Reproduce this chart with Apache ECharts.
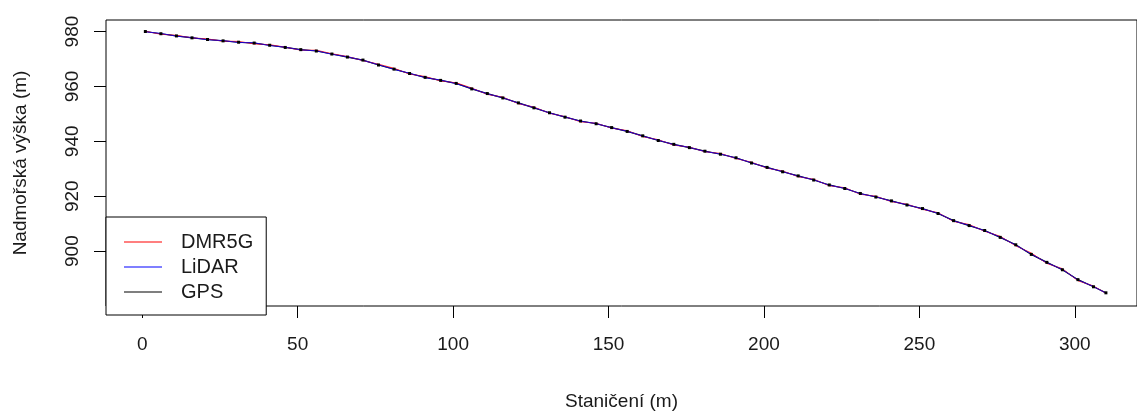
<!DOCTYPE html>
<html>
<head>
<meta charset="utf-8">
<script src="https://cdn.jsdelivr.net/npm/echarts@6/dist/echarts.min.js"></script>
<style>
  html, body { margin: 0; padding: 0; background: #fff; }
  #profil { width: 1137px; height: 416px; }
</style>
</head>
<body>
<div id="profil"></div>
<script>
// staničení (m)
var stations = [1, 6, 11, 16, 21, 26, 31, 36, 41, 46, 51, 56, 61, 66, 71, 76, 81, 86, 91, 96,
  101, 106, 111, 116, 121, 126, 131, 136, 141, 146, 151, 156, 161, 166, 171, 176, 181, 186, 191, 196,
  201, 206, 211, 216, 221, 226, 231, 236, 241, 246, 251, 256, 261, 266, 271, 276, 281, 286, 291, 296,
  301, 306, 310];

// nadmořská výška (m)
var dmr5g = [980.1, 979.0, 978.6, 977.7, 977.3, 976.5, 976.4, 975.5, 975.2, 974.3,
  973.2, 973.2, 971.9, 970.9, 969.4, 968.1, 966.6, 964.5, 963.6, 962.0,
  961.3, 959.4, 957.1, 956.1, 953.7, 952.5, 950.2, 949.0, 947.1, 946.6,
  944.8, 943.9, 941.7, 940.6, 938.6, 937.9, 936.2, 935.6, 933.7, 932.4,
  930.2, 929.2, 927.1, 926.2, 923.8, 923.1, 920.7, 920.0, 918.0, 917.1,
  915.2, 914.0, 910.8, 909.7, 907.2, 905.4, 901.9, 899.3, 895.5, 893.6,
  889.2, 887.3, 884.6];

var lidar = [979.9, 979.3, 978.3, 977.8, 977.0, 976.7, 976.0, 975.9, 974.9, 974.3,
  973.3, 973.0, 971.7, 970.8, 969.5, 967.9, 966.2, 964.8, 963.2, 962.3,
  961.0, 959.2, 957.3, 955.9, 953.9, 952.3, 950.3, 948.9, 947.3, 946.5,
  944.9, 943.7, 941.9, 940.4, 938.8, 937.8, 936.3, 935.4, 933.9, 932.2,
  930.4, 929.0, 927.3, 926.0, 924.0, 922.9, 920.9, 919.8, 918.2, 916.9,
  915.4, 913.8, 911.0, 909.4, 907.4, 905.1, 902.2, 898.9, 895.8, 893.3,
  889.5, 887.1, 884.7];

var gps = [980.0, 979.2, 978.4, 977.7, 977.1, 976.6, 976.1, 975.8, 975.0, 974.2,
  973.4, 972.9, 971.8, 970.7, 969.6, 967.8, 966.3, 964.7, 963.3, 962.2,
  961.1, 959.1, 957.4, 955.8, 954.0, 952.2, 950.4, 948.8, 947.4, 946.4,
  945.0, 943.6, 942.0, 940.3, 938.9, 937.7, 936.4, 935.3, 934.0, 932.1,
  930.5, 928.9, 927.4, 925.9, 924.1, 922.8, 921.0, 919.7, 918.3, 916.8,
  915.5, 913.7, 911.1, 909.3, 907.5, 905.0, 902.3, 898.8, 895.9, 893.2,
  889.6, 887.0, 884.8];

var xTicks = [0, 50, 100, 150, 200, 250, 300];
var yTicks = [900, 920, 940, 960, 980];

function pairs(ys) {
  var out = [];
  for (var i = 0; i < stations.length; i++) {
    out.push([stations[i], ys[i]]);
  }
  return out;
}

var font = 'Liberation Sans, Arial, sans-serif';
var txt = '#1a1a1a';

var chart = echarts.init(document.getElementById('profil'));
var option = {
  backgroundColor: '#fff',
  animation: false,
  grid: {
    show: true,
    left: 106, top: 20, bottom: 99, right: -7,
    borderColor: '#000', borderWidth: 1,
    backgroundColor: 'transparent'
  },
  xAxis: {
    type: 'value',
    min: -11.66, max: 320,
    name: 'Staničení (m)',
    nameLocation: 'middle',
    nameGap: 86,
    nameTextStyle: { fontFamily: font, fontSize: 19, color: txt },
    axisLine: { show: false, onZero: false },
    splitLine: { show: false },
    axisTick: { show: true, length: 12, customValues: xTicks, lineStyle: { color: '#000' } },
    axisLabel: { customValues: xTicks, margin: 29, fontFamily: font, fontSize: 19, color: txt }
  },
  yAxis: {
    type: 'value',
    min: 880, max: 984.2,
    name: 'Nadmořská výška (m)',
    nameLocation: 'middle',
    nameGap: 76,
    nameTextStyle: { fontFamily: font, fontSize: 19, color: txt },
    axisLine: { show: false, onZero: false },
    splitLine: { show: false },
    axisTick: { show: true, length: 12, customValues: yTicks, lineStyle: { color: '#000' } },
    axisLabel: { customValues: yTicks, rotate: 90, margin: 24, fontFamily: font, fontSize: 19, color: txt }
  },
  legend: {
    orient: 'vertical',
    left: 106, top: 217,
    padding: [15, 13, 13, 18],
    backgroundColor: '#fff',
    borderColor: '#000', borderWidth: 1,
    itemWidth: 38, itemHeight: 1,
    itemGap: 5,
    icon: 'rect',
    textStyle: { fontFamily: font, fontSize: 20, color: txt, lineHeight: 20, padding: [0, 0, 0, 14] },
    data: ['DMR5G', 'LiDAR', 'GPS']
  },
  series: [
    {
      name: 'GPS', type: 'line', data: pairs(gps),
      symbol: 'rect', symbolSize: 3, color: '#000',
      itemStyle: { color: '#000' },
      lineStyle: { width: 1.2, color: '#000' }
    },
    {
      name: 'DMR5G', type: 'line', data: pairs(dmr5g),
      showSymbol: false, color: '#ff0000',
      lineStyle: { width: 1, color: '#ff0000', opacity: 0.8 }
    },
    {
      name: 'LiDAR', type: 'line', data: pairs(lidar),
      showSymbol: false, color: '#0000ff',
      lineStyle: { width: 1, color: '#0000ff', opacity: 0.8 }
    }
  ]
};
chart.setOption(option);
</script>
</body>
</html>
